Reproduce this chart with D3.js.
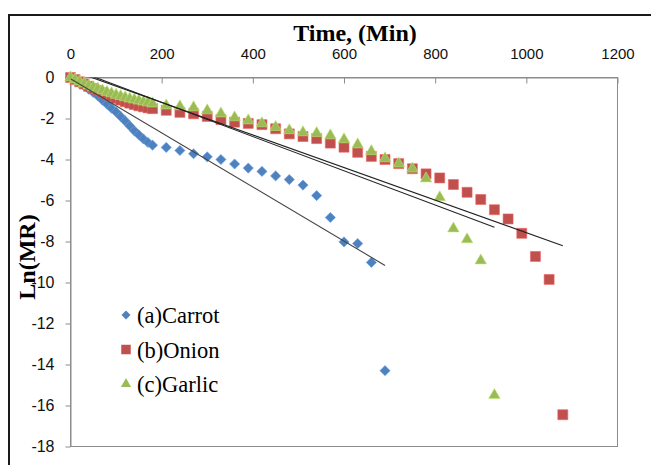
<!DOCTYPE html>
<html>
<head>
<meta charset="utf-8">
<script src="https://cdn.jsdelivr.net/npm/d3@7/dist/d3.min.js"></script>
<style>
  body { margin: 0; background: #fff; }
  svg { display: block; }
</style>
</head>
<body>
<svg id="chart" width="651" height="465"></svg>
<script>
// data (time in min, Ln(MR))
var carrotTime = [0,10,20,30,40,50,60,70,80,90,100,110,120,130,140,150,160,170,180,
  210,240,270,300,330,360,390,420,450,480,510,540,570,600,630,660,690];
var carrotLnMR = [0,-0.14,-0.28,-0.42,-0.57,-0.73,-0.9,-1.1,-1.3,-1.5,-1.68,-1.9,-2.12,-2.36,-2.6,-2.8,-3.0,-3.17,-3.3,
  -3.41,-3.56,-3.72,-3.87,-4.0,-4.22,-4.42,-4.58,-4.8,-4.98,-5.25,-5.76,-6.83,-8.02,-8.1,-9.02,-14.3];

var onionTime = [0,10,20,30,40,50,60,70,80,90,100,110,120,130,140,150,160,170,180,
  210,240,270,300,330,360,390,420,450,480,510,540,570,600,630,660,690,720,750,780,810,840,870,900,930,960,990,1020,1050,1080];
var onionLnMR = [0,-0.1,-0.21,-0.32,-0.43,-0.54,-0.64,-0.74,-0.84,-0.93,-1.02,-1.1,-1.18,-1.25,-1.32,-1.38,-1.43,-1.48,-1.52,
  -1.6,-1.7,-1.77,-1.9,-2.05,-2.18,-2.24,-2.3,-2.5,-2.75,-2.88,-2.98,-3.2,-3.4,-3.65,-3.85,-4.0,-4.2,-4.45,-4.7,-4.9,-5.22,-5.6,-5.95,-6.45,-6.9,-7.6,-8.73,-9.85,-16.45];

var garlicTime = [0,10,20,30,40,50,60,70,80,90,100,110,120,130,140,150,160,170,180,
  210,240,270,300,330,360,390,420,450,480,510,540,570,600,630,660,690,720,750,780,810,840,870,900,930];
var garlicLnMR = [0,-0.1,-0.2,-0.3,-0.4,-0.48,-0.56,-0.64,-0.71,-0.78,-0.85,-0.91,-0.97,-1.03,-1.08,-1.13,-1.18,-1.22,-1.27,
  -1.37,-1.41,-1.46,-1.61,-1.76,-1.95,-2.1,-2.24,-2.42,-2.58,-2.68,-2.72,-2.83,-3.02,-3.27,-3.6,-3.95,-4.2,-4.45,-4.93,-5.85,-7.37,-7.9,-8.93,-15.5];

// linear fits drawn through each series
var fitIntercept = [-0.06, 0.37, 0.46];
var fitSlope = [-0.0132, -0.00794, -0.00835];
var fitEnd = [690, 1080, 930];

var seriesNames = ["(a)Carrot", "(b)Onion", "(c)Garlic"];
var seriesColors = ["#4F81BD", "#C0504D", "#9BBB59"];

var xTicks = [0, 200, 400, 600, 800, 1000, 1200];
var yTicks = [0, -2, -4, -6, -8, -10, -12, -14, -16, -18];

document.addEventListener('DOMContentLoaded', function() {
  drawChart();
});

function drawChart() {
  var svg = d3.select("#chart");
  var serif = "'Liberation Serif', 'Times New Roman', serif";

  // outer chart frame
  svg.append("rect")
    .attr("x", 9).attr("y", 15)
    .attr("width", 700).attr("height", 500)
    .attr("fill", "none")
    .attr("stroke", "#1a1a1a")
    .attr("stroke-width", 2);

  var plotLeft = 70.5, plotRight = 617.5, plotTop = 77.5, plotBottom = 446.5;

  var x = d3.scaleLinear().domain([0, 1200]).range([plotLeft, plotRight]);
  var y = d3.scaleLinear().domain([-18, 0]).range([plotBottom, plotTop]);

  // plot area border
  svg.append("rect")
    .attr("x", plotLeft).attr("y", plotTop)
    .attr("width", plotRight - plotLeft).attr("height", plotBottom - plotTop)
    .attr("fill", "none")
    .attr("stroke", "#8c8c8c");

  var tickFont = "'Liberation Sans', Arial, sans-serif";
  var plainNum = function(d) { return String(d); }; // plain hyphen minus like the original

  // x axis on top, ticks pointing down into the plot
  var xAxis = svg.append("g")
    .attr("transform", "translate(0," + plotTop + ")")
    .call(d3.axisBottom(x).tickValues(xTicks).tickSize(6).tickSizeOuter(0).tickFormat(plainNum));
  xAxis.select(".domain").attr("stroke", "#8c8c8c");
  xAxis.selectAll(".tick line").attr("stroke", "#8c8c8c");
  xAxis.selectAll(".tick text")
    .attr("y", -19).attr("dy", 0)
    .style("font-family", tickFont).style("font-size", "15px").attr("fill", "#111");

  var yAxis = svg.append("g")
    .attr("transform", "translate(" + plotLeft + ",0)")
    .call(d3.axisLeft(y).tickValues(yTicks).tickSize(5).tickSizeOuter(0).tickFormat(plainNum));
  yAxis.select(".domain").attr("stroke", "#8c8c8c");
  yAxis.selectAll(".tick line").attr("stroke", "#8c8c8c");
  yAxis.selectAll(".tick text")
    .attr("x", -16)
    .style("font-family", tickFont).style("font-size", "16px").attr("fill", "#111");

  // axis titles
  svg.append("text")
    .attr("x", 355).attr("y", 41)
    .attr("text-anchor", "middle")
    .style("font-family", serif)
    .style("font-weight", "bold").style("font-size", "24px")
    .text("Time, (Min)");

  svg.append("text")
    .attr("transform", "translate(35,257) rotate(-90)")
    .attr("text-anchor", "middle")
    .style("font-family", serif)
    .style("font-weight", "bold").style("font-size", "24px")
    .text("Ln(MR)");

  // markers
  var diamond = d3.symbol().type(d3.symbolSquare).size(52);
  var square = d3.symbol().type(d3.symbolSquare).size(100);
  var triangle = d3.symbol().type(d3.symbolTriangle).size(58);

  function drawSeries(times, vals, sym, color, rot) {
    svg.append("g").selectAll("path")
      .data(times)
      .enter().append("path")
      .attr("d", sym)
      .attr("transform", function(d, i) {
        return "translate(" + x(d) + "," + y(vals[i]) + ")" + (rot ? " rotate(45)" : "");
      })
      .attr("fill", color)
      .attr("stroke", d3.color(color).brighter(0.6))
      .attr("stroke-width", 0.6);
  }

  drawSeries(carrotTime, carrotLnMR, diamond, seriesColors[0], true);
  drawSeries(onionTime, onionLnMR, square, seriesColors[1], false);
  drawSeries(garlicTime, garlicLnMR, triangle, seriesColors[2], false);

  // fit lines, clipped to the plot area
  svg.append("clipPath").attr("id", "plotClip")
    .append("rect")
    .attr("x", plotLeft).attr("y", plotTop)
    .attr("width", plotRight - plotLeft).attr("height", plotBottom - plotTop);

  var fitLine = d3.line()
    .x(function(d) { return x(d[0]); })
    .y(function(d) { return y(d[1]); });

  var fits = svg.append("g").attr("clip-path", "url(#plotClip)");
  fitSlope.forEach(function(s, i) {
    var pts = [[0, fitIntercept[i]], [fitEnd[i], fitIntercept[i] + s * fitEnd[i]]];
    fits.append("path")
      .attr("d", fitLine(pts))
      .attr("fill", "none")
      .attr("stroke", i == 0 ? "#444" : "#222")
      .attr("stroke-width", 1.1);
  });

  // legend
  var legendSyms = [
    d3.symbol().type(d3.symbolSquare).size(40),
    d3.symbol().type(d3.symbolSquare).size(90),
    d3.symbol().type(d3.symbolTriangle).size(45)
  ];
  var legend = svg.append("g");
  seriesNames.forEach(function(name, i) {
    var ly = 315 + i * 34.5;
    legend.append("path")
      .attr("d", legendSyms[i])
      .attr("transform", "translate(126," + ly + ")" + (i == 0 ? " rotate(45)" : ""))
      .attr("fill", seriesColors[i]);
    legend.append("text")
      .attr("x", 137).attr("y", ly + 8)
      .style("font-family", serif)
      .style("font-size", "22.5px")
      .text(name);
  });
}
</script>
</body>
</html>
